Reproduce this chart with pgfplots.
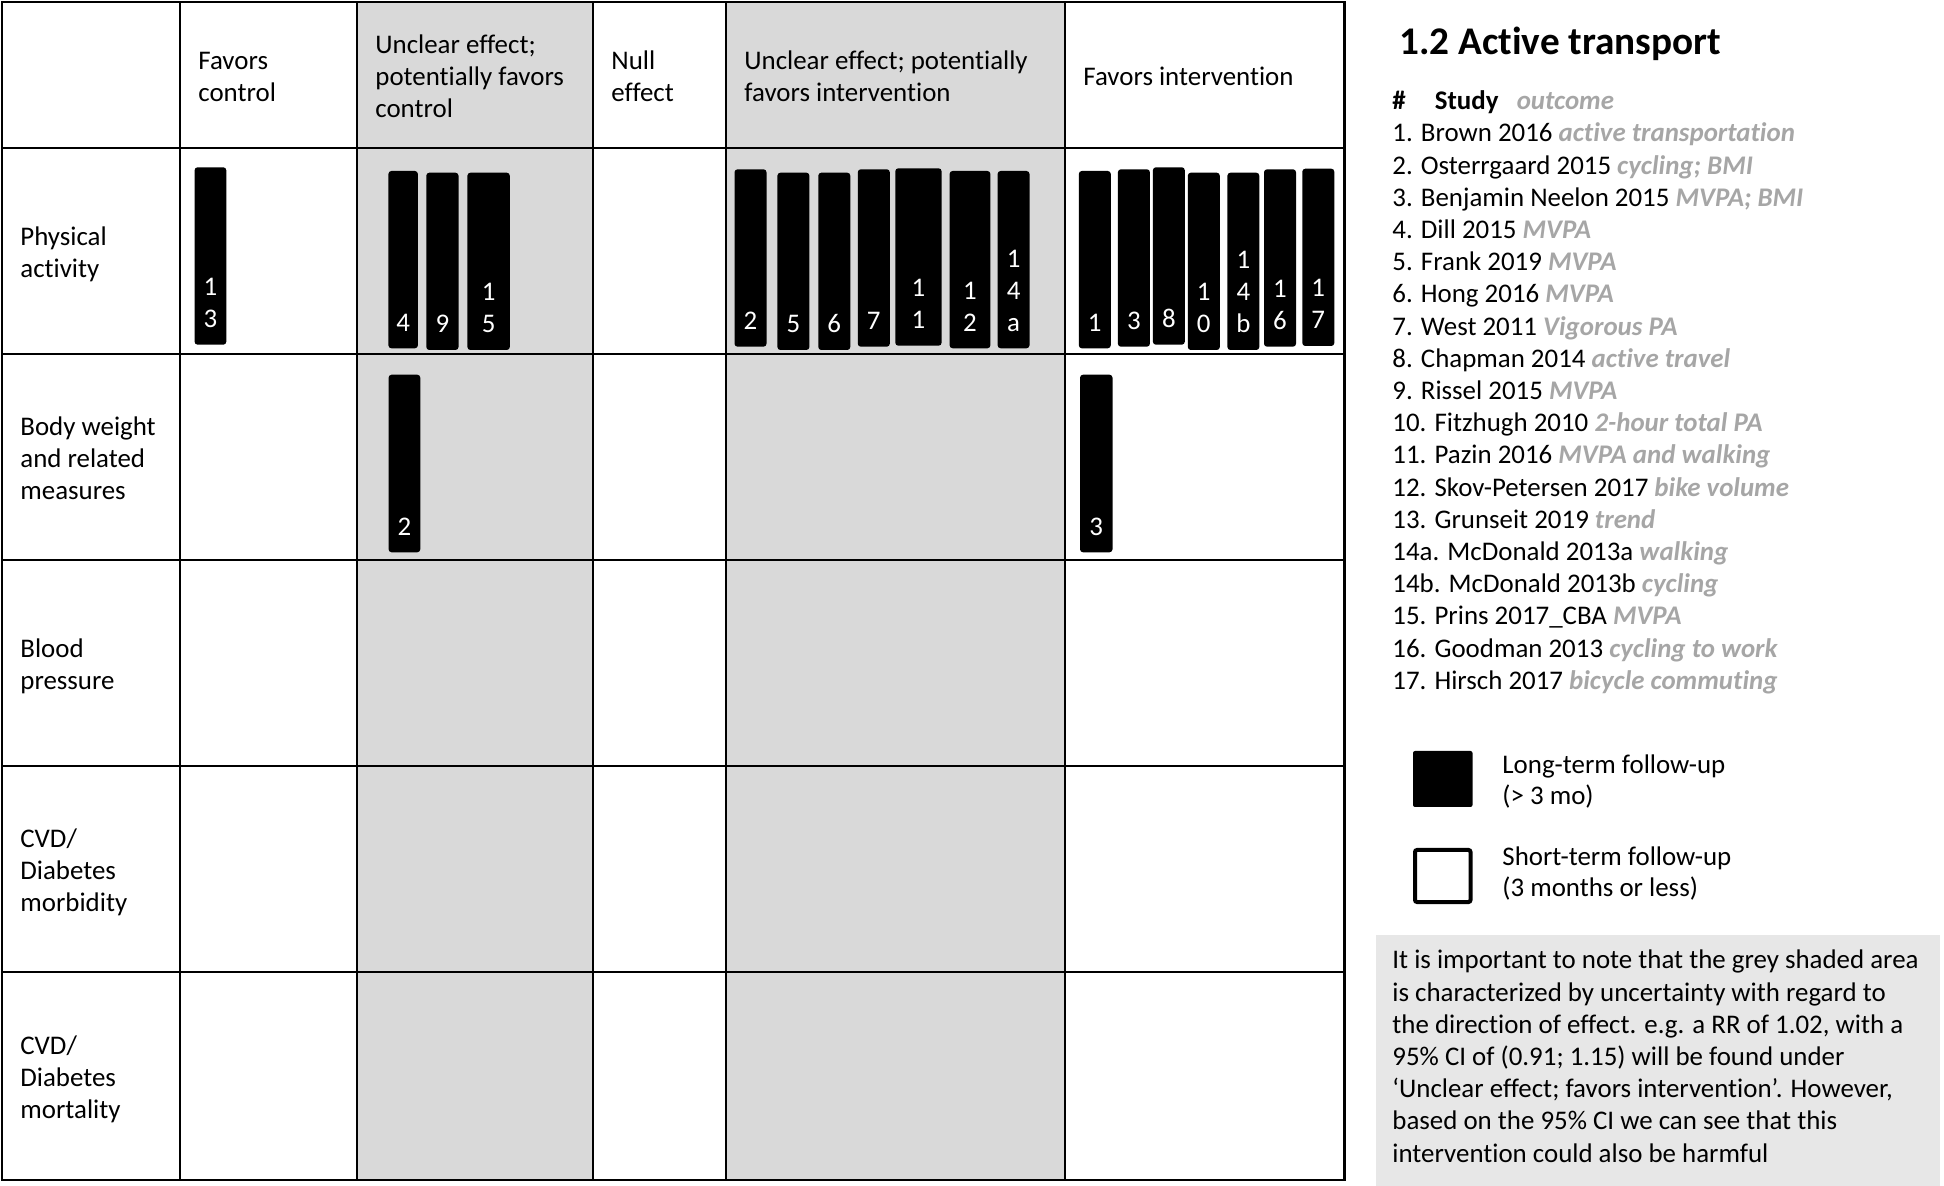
\documentclass[border=0pt]{standalone}
\usepackage{fontspec}
\setmainfont{Carlito}[Ligatures=NoCommon]
\usepackage{pgfplots}
\pgfplotsset{compat=1.18}
\definecolor{cellgrey}{HTML}{D9D9D9}
\definecolor{boxgrey}{HTML}{E7E7E7}
\definecolor{outgrey}{HTML}{A6A6A6}
\newcommand\bodyfont{\fontsize{13.45}{16.1}\selectfont}
\newcommand\studybar[4]{\addplot[fill=black,draw=none,rounded corners=1.5pt,forget plot] coordinates {(#1,#3)(#2,#3)(#2,#4)(#1,#4)} -- cycle;}
\newcommand\lab[3]{\node[anchor=base west,inner sep=0pt,font=\bodyfont] at (axis cs:#1,#2+2.5) {#3};}
\newcommand\wlab[3]{\node[anchor=base,inner sep=0pt,font=\bodyfont,text=white] at (axis cs:#1,#2) {#3};}
\newcommand\oc[1]{\textcolor{outgrey}{\bfseries\itshape #1}}
\begin{document}
\begin{tikzpicture}
\begin{axis}[x=0.5pt,y=0.5pt,xmin=0,xmax=1944,ymin=0,ymax=1186,y dir=reverse,hide axis,clip=false]
% shaded columns and note box
\addplot[fill=cellgrey,draw=none,forget plot] coordinates {(357,2)(593,2)(593,1180)(357,1180)} -- cycle;
\addplot[fill=cellgrey,draw=none,forget plot] coordinates {(726,2)(1065,2)(1065,1180)(726,1180)} -- cycle;
\addplot[fill=boxgrey,draw=none,forget plot] coordinates {(1376,935)(1940,935)(1940,1186)(1376,1186)} -- cycle;
% grid
\pgfplotsinvokeforeach{180,357,593,726,1065}{\addplot[black,line width=1.4pt,forget plot] coordinates {(#1,2)(#1,1180)};}
\pgfplotsinvokeforeach{148,354,560,766,972}{\addplot[black,line width=1.4pt,forget plot] coordinates {(2,#1)(1344.5,#1)};}
\addplot[black,line width=1.4pt,forget plot] coordinates {(2,2)(1344.5,2)(1344.5,1180)(2,1180)} -- cycle;
% bars: physical activity
\studybar{194.6}{226.3}{167.3}{344.7}
\studybar{388.4}{417.9}{171}{348.3}
\studybar{426.3}{458.5}{172.7}{350}
\studybar{467.4}{509.8}{172.7}{350}
\studybar{734.5}{766.5}{169.3}{346.7}
\studybar{777.4}{809.4}{172.7}{350}
\studybar{818.3}{850.3}{172.7}{350}
\studybar{857.8}{889.8}{169.3}{346.7}
\studybar{895.3}{941.6}{168.3}{345.7}
\studybar{949.6}{990.4}{171}{348.3}
\studybar{997.6}{1029.5}{171}{348.3}
\studybar{1078.8}{1110.8}{171}{348.3}
\studybar{1117.9}{1149.9}{169.3}{346.7}
\studybar{1152.9}{1184.8}{167.3}{344.7}
\studybar{1187.8}{1219.8}{172.7}{350}
\studybar{1227.4}{1259.3}{172.7}{350}
\studybar{1264}{1296}{169.3}{346.7}
\studybar{1302.3}{1334.3}{168.7}{346}
% bars: body weight
\studybar{388.6}{420.3}{374.7}{552.3}
\studybar{1080}{1112.5}{374.7}{552.3}
% legend squares
\addplot[fill=black,draw=none,rounded corners=1pt,forget plot] coordinates {(1413,751)(1472.5,751)(1472.5,807)(1413,807)} -- cycle;
\addplot[fill=white,draw=black,line width=2pt,rounded corners=1pt,forget plot] coordinates {(1415,850)(1470.5,850)(1470.5,902)(1415,902)} -- cycle;
% bar labels
\wlab{210.5}{295.7}{1}\wlab{210.5}{327.7}{3}
\wlab{403.2}{331.3}{4}
\wlab{442.4}{333}{9}
\wlab{488.6}{301}{1}\wlab{488.6}{333}{5}
\wlab{750.5}{329.7}{2}
\wlab{793.4}{333}{5}
\wlab{834.3}{333}{6}
\wlab{873.8}{329.7}{7}
\wlab{918.5}{296.7}{1}\wlab{918.5}{328.7}{1}
\wlab{970}{299.3}{1}\wlab{970}{331.3}{2}
\wlab{1013.6}{267.3}{1}\wlab{1013.6}{299.3}{4}\wlab{1013.6}{331.3}{a}
\wlab{1094.8}{331.3}{1}
\wlab{1133.9}{329.7}{3}
\wlab{1168.9}{327.7}{8}
\wlab{1203.8}{301}{1}\wlab{1203.8}{333}{0}
\wlab{1243.4}{269}{1}\wlab{1243.4}{301}{4}\wlab{1243.4}{333}{b}
\wlab{1280}{297.7}{1}\wlab{1280}{329.7}{6}
\wlab{1318.3}{297}{1}\wlab{1318.3}{329}{7}
\wlab{404.5}{535.3}{2}
\wlab{1096.3}{535.3}{3}
% header cells
\lab{198}{66.9}{Favors}\lab{198}{99.1}{control}
\lab{375}{50.8}{Unclear effect;}\lab{375}{83}{potentially favors}\lab{375}{115.2}{control}
\lab{611}{66.9}{Null}\lab{611}{99.1}{effect}
\lab{744}{66.9}{Unclear effect; potentially}\lab{744}{99.1}{favors intervention}
\lab{1083}{83}{Favors intervention}
% row labels
\lab{20}{242.9}{Physical}\lab{20}{275.1}{activity}
\lab{20}{432.8}{Body weight}\lab{20}{465}{and related}\lab{20}{497.2}{measures}
\lab{20}{654.9}{Blood}\lab{20}{687.1}{pressure}
\lab{20}{844.8}{CVD/}\lab{20}{877}{Diabetes}\lab{20}{909.2}{morbidity}
\lab{20}{1051.8}{CVD/}\lab{20}{1084}{Diabetes}\lab{20}{1116.2}{mortality}
% title and study list
\node[anchor=base west,inner sep=0pt,font=\fontsize{19.6}{23}\selectfont\bfseries] at (axis cs:1399,55) {1.2 Active transport};
\lab{1392}{107.2}{\bfseries\#}\lab{1434.5}{107.2}{\bfseries Study}\lab{1516.4}{107.2}{\oc{outcome}}
\lab{1392}{139.4}{1. Brown 2016 \oc{active transportation}}
\lab{1392}{171.6}{2. Osterrgaard 2015 \oc{cycling; BMI}}
\lab{1392}{203.8}{3. Benjamin Neelon 2015 \oc{MVPA; BMI}}
\lab{1392}{236}{4. Dill 2015 \oc{MVPA}}
\lab{1392}{268.2}{5. Frank 2019 \oc{MVPA}}
\lab{1392}{300.4}{6. Hong 2016 \oc{MVPA}}
\lab{1392}{332.6}{7. West 2011 \oc{Vigorous PA}}
\lab{1392}{364.8}{8. Chapman 2014 \oc{active travel}}
\lab{1392}{397}{9. Rissel 2015 \oc{MVPA}}
\lab{1392}{429.2}{10. Fitzhugh 2010 \oc{2-hour total PA}}
\lab{1392}{461.4}{11. Pazin 2016 \oc{MVPA and walking}}
\lab{1392}{493.6}{12. Skov-Petersen 2017 \oc{bike volume}}
\lab{1392}{525.8}{13. Grunseit 2019 \oc{trend}}
\lab{1392}{558}{14a. McDonald 2013a \oc{walking}}
\lab{1392}{590.2}{14b. McDonald 2013b \oc{cycling}}
\lab{1392}{622.4}{15. Prins 2017\_CBA \oc{MVPA}}
\lab{1392}{654.6}{16. Goodman 2013 \oc{cycling to work}}
\lab{1392}{686.8}{17. Hirsch 2017 \oc{bicycle commuting}}
% legend text
\lab{1502}{771}{Long-term follow-up}\lab{1502}{802}{(> 3 mo)}
\lab{1502}{862.5}{Short-term follow-up}\lab{1502}{893.5}{(3 months or less)}
% note
\lab{1392}{966.3}{It is important to note that the grey shaded area}
\lab{1392}{998.5}{is characterized by uncertainty with regard to}
\lab{1392}{1030.7}{the direction of effect. e.g. a RR of 1.02, with a}
\lab{1392}{1062.9}{95\% CI of (0.91; 1.15) will be found under}
\lab{1392}{1095.1}{‘Unclear effect; favors intervention’. However,}
\lab{1392}{1127.3}{based on the 95\% CI we can see that this}
\lab{1392}{1159.5}{intervention could also be harmful}
\end{axis}
\pgfresetboundingbox
\path[use as bounding box] (current axis.south west) rectangle (current axis.north east);
\end{tikzpicture}
\end{document}
